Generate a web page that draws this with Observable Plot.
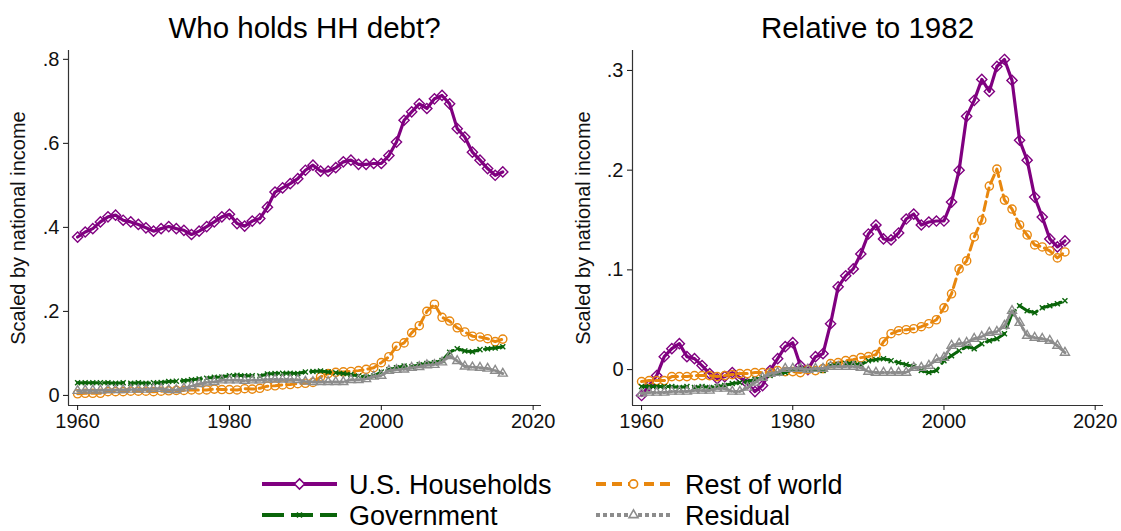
<!DOCTYPE html>
<html>
<head>
<meta charset="utf-8">
<script src="https://cdn.jsdelivr.net/npm/d3@7"></script>
<script src="https://cdn.jsdelivr.net/npm/@observablehq/plot@0.6"></script>
<style>
  html, body { margin: 0; padding: 0; background: #fff; }
  #wrap { position: relative; width: 1121px; height: 531px; overflow: hidden; font-family: "Liberation Sans", Arial, sans-serif; }
  #wrap > svg, #wrap > div { position: absolute; }
</style>
</head>
<body>
<div id="wrap"></div>
<script>
// ---------- data ----------
const years = [1960,1961,1962,1963,1964,1965,1966,1967,1968,1969,
               1970,1971,1972,1973,1974,1975,1976,1977,1978,1979,
               1980,1981,1982,1983,1984,1985,1986,1987,1988,1989,
               1990,1991,1992,1993,1994,1995,1996,1997,1998,1999,
               2000,2001,2002,2003,2004,2005,2006,2007,2008,2009,
               2010,2011,2012,2013,2014,2015,2016];

// Left panel: levels, scaled by national income
const hhLevel  = [.377,.389,.397,.413,.425,.429,.417,.413,.407,.399,
                  .391,.397,.402,.397,.393,.383,.391,.402,.413,.425,
                  .431,.409,.403,.415,.421,.448,.484,.494,.504,.516,
                  .536,.548,.534,.534,.542,.556,.560,.550,.550,.552,
                  .552,.571,.603,.655,.675,.694,.683,.706,.714,.694,
                  .635,.615,.579,.560,.540,.524,.532];
const rowLevel = [.004,.005,.005,.005,.009,.009,.009,.010,.010,.010,
                  .009,.010,.011,.012,.012,.013,.013,.013,.015,.014,
                  .014,.013,.016,.015,.017,.022,.023,.025,.026,.028,
                  .029,.031,.044,.052,.055,.056,.057,.059,.062,.066,
                  .078,.092,.117,.125,.149,.166,.200,.217,.186,.177,
                  .161,.151,.141,.139,.135,.128,.134];
const govLevel = [.030,.030,.030,.030,.030,.029,.030,.029,.030,.029,
                  .030,.031,.033,.034,.035,.037,.039,.041,.043,.044,
                  .047,.048,.047,.047,.046,.051,.052,.053,.053,.052,
                  .056,.057,.058,.056,.054,.052,.050,.046,.044,.046,
                  .056,.061,.066,.070,.068,.073,.076,.078,.083,.103,
                  .111,.106,.104,.109,.111,.113,.116];
const resLevel = [.011,.012,.012,.012,.013,.013,.013,.014,.014,.014,
                  .016,.016,.013,.013,.017,.022,.027,.031,.032,.036,
                  .036,.036,.035,.036,.036,.038,.038,.038,.038,.037,
                  .033,.032,.032,.032,.032,.032,.037,.037,.039,.045,
                  .047,.059,.061,.062,.066,.068,.072,.073,.079,.094,
                  .082,.069,.067,.066,.064,.059,.052];

// Right panel: relative to 1982
const hhRel  = [-.026,-.016,-.006,.013,.021,.026,.013,.011,.004,-.004,
                -.009,-.007,-.003,-.008,-.014,-.022,-.016,-.001,.011,.023,
                .027,.004,0,.013,.016,.046,.083,.094,.101,.116,
                .136,.145,.131,.130,.137,.151,.156,.145,.148,.149,
                .149,.168,.200,.254,.270,.291,.279,.304,.311,.290,
                .230,.210,.173,.153,.131,.123,.129];
const rowRel = [-.012,-.011,-.011,-.011,-.007,-.007,-.007,-.006,-.006,-.006,
                -.007,-.006,-.005,-.004,-.004,-.003,-.003,-.003,-.001,-.002,
                -.002,-.003,0,-.001,.001,.006,.007,.009,.010,.012,
                .013,.015,.028,.036,.039,.040,.041,.043,.046,.050,
                .062,.076,.101,.109,.133,.150,.184,.201,.170,.161,
                .145,.135,.125,.123,.119,.112,.118];
const govRel = [-.017,-.017,-.017,-.017,-.017,-.018,-.017,-.018,-.017,-.018,
                -.017,-.016,-.014,-.013,-.012,-.010,-.008,-.006,-.004,-.003,
                0,.001,0,0,-.001,.004,.005,.006,.006,.005,
                .009,.010,.011,.009,.007,.005,.003,-.001,-.003,-.001,
                .009,.014,.019,.023,.021,.026,.029,.031,.036,.056,
                .064,.059,.057,.062,.064,.066,.069];
const resRel = [-.024,-.023,-.023,-.023,-.022,-.022,-.022,-.021,-.021,-.021,
                -.019,-.019,-.022,-.022,-.018,-.013,-.008,-.004,-.003,.001,
                .001,.001,0,.001,.001,.003,.003,.003,.003,.002,
                -.002,-.003,-.003,-.003,-.003,-.003,.002,.002,.004,.010,
                .012,.024,.026,.027,.031,.033,.037,.038,.044,.059,
                .047,.034,.032,.031,.029,.024,.017];

const seriesNames = ["U.S. Households", "Rest of world", "Government", "Residual"];
const panelTitles = ["Who holds HH debt?", "Relative to 1982"];
const yLabel = "Scaled by national income";
const xTicks = [1960, 1980, 2000, 2020];
const yTicksLeft = [0, .2, .4, .6, .8];
const yTicksRight = [0, .1, .2, .3];

// ---------- styles ----------
const styles = [
  {color: "#800080", dash: null,    symbol: "diamond2",  r: 4.6, sw: 3.2},
  {color: "#E8870E", dash: "9,5",   symbol: "circle",    r: 4.1, sw: 3},
  {color: "#0A650A", dash: "20,6",  symbol: "times",     r: 2.4, sw: 3},
  {color: "#8C8C8C", dash: "3,2.5", symbol: "triangle2", r: 4.3, sw: 3}
];
const FONT = "'Liberation Sans', Arial, sans-serif";

function fmtY(d) { return d === 0 ? "0" : d3.format(".1f")(d).replace(/^0/, ""); }

function makePanel(seriesArrays, yDomain, yTicks, opts) {
  const marks = [];
  // axis lines (left and bottom)
  marks.push(Plot.ruleY([yDomain[0]], {stroke: "#333", strokeWidth: 1.2}));
  marks.push(Plot.ruleX([opts.xDomain[0]], {stroke: "#333", strokeWidth: 1.2}));
  seriesArrays.forEach((arr, k) => {
    const s = styles[k];
    const rows = years.map((y, i) => ({year: y, v: arr[i]}));
    marks.push(Plot.line(rows, {x: "year", y: "v", stroke: s.color, strokeWidth: s.sw,
      strokeDasharray: s.dash || undefined, strokeLinejoin: "round"}));
    marks.push(Plot.dot(rows, {x: "year", y: "v", stroke: s.color, fill: "none",
      symbol: s.symbol, r: s.r, strokeWidth: 1.4}));
  });
  marks.push(Plot.axisX({ticks: xTicks, tickFormat: d => String(d), tickSize: 5, tickPadding: 3, label: null}));
  marks.push(Plot.axisY({ticks: yTicks, tickFormat: fmtY, tickSize: 5, tickPadding: 4,
    label: yLabel, labelAnchor: "center", labelOffset: opts.labelOffset, labelArrow: "none"}));
  return Plot.plot({
    width: opts.width, height: 445,
    marginLeft: opts.marginLeft, marginRight: opts.marginRight, marginTop: 50, marginBottom: 40,
    x: {domain: opts.xDomain},
    y: {domain: yDomain},
    style: {fontFamily: FONT, fontSize: "20px", color: "#111", background: "transparent", overflow: "visible"},
    marks
  });
}

const wrap = document.getElementById("wrap");

const left = makePanel([hhLevel, rowLevel, govLevel, resLevel], [-0.024, 0.821], yTicksLeft,
  {width: 560, marginLeft: 68, marginRight: 19, xDomain: [1958.8, 2021.1], labelOffset: 58});
left.style.left = "0px"; left.style.top = "0px";
wrap.appendChild(left);

const right = makePanel([hhRel, rowRel, govRel, resRel], [-0.036, 0.32], yTicksRight,
  {width: 561, marginLeft: 72, marginRight: 18, xDomain: [1958.8, 2021.1], labelOffset: 57});
right.style.left = "560px"; right.style.top = "0px";
wrap.appendChild(right);

// ---------- titles + legend overlay ----------
const ov = d3.create("svg").attr("width", 1121).attr("height", 531)
  .style("left", "0px").style("top", "0px").style("pointer-events", "none")
  .attr("font-family", FONT);
ov.append("text").attr("x", 304.5).attr("y", 38).attr("text-anchor", "middle")
  .attr("font-size", 29.5).attr("fill", "#000").text(panelTitles[0]);
ov.append("text").attr("x", 867.5).attr("y", 38).attr("text-anchor", "middle")
  .attr("font-size", 29.5).attr("fill", "#000").text(panelTitles[1]);

const legendPos = [
  {kx: 262, tx: 349, y: 484},
  {kx: 596, tx: 685, y: 484},
  {kx: 262, tx: 349, y: 515},
  {kx: 596, tx: 685, y: 515}
];
const legendDash = [null, "10,6", "22,7", "4,3"];
const symMap = {diamond2: d3.symbolDiamond2, circle: d3.symbolCircle, times: d3.symbolTimes, triangle2: d3.symbolTriangle2};
seriesNames.forEach((name, k) => {
  const s = styles[k], p = legendPos[k];
  const g = ov.append("g");
  g.append("line").attr("x1", p.kx).attr("x2", p.kx + 75).attr("y1", p.y).attr("y2", p.y)
    .attr("stroke", s.color).attr("stroke-width", 4)
    .attr("stroke-dasharray", legendDash[k]);
  const size = Math.PI * s.r * s.r;
  g.append("path").attr("d", d3.symbol(symMap[s.symbol], size)())
    .attr("transform", `translate(${p.kx + 37.5},${p.y})`)
    .attr("fill", s.symbol === "times" ? "none" : "#fff").attr("stroke", s.color).attr("stroke-width", 1.6);
  g.append("text").attr("x", p.tx).attr("y", p.y + 10).attr("font-size", 27).attr("fill", "#000").text(name);
});
wrap.appendChild(ov.node());
</script>
</body>
</html>
